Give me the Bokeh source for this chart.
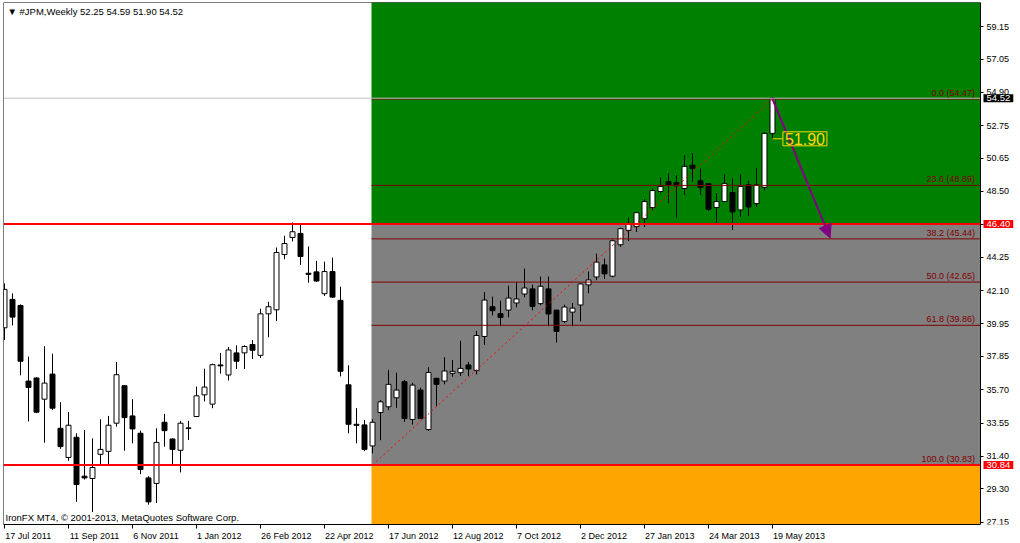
from bokeh.plotting import figure
from bokeh.models import (Range1d, FixedTicker, Label, LabelSet, Arrow, NormalHead,
                          PrintfTickFormatter, ColumnDataSource, LinearAxis)
from bokeh.embed import file_html
from bokeh.resources import INLINE
from bokeh.core.properties import value

# ---------------- data ----------------
title_text = "\u25bc #JPM,Weekly  52.25 54.59 51.90 54.52"
copyright_text = "IronFX MT4, \u00a9 2001-2013, MetaQuotes Software Corp."

opens = [39.70, 41.53, 41.14, 36.26, 36.46, 35.09, 36.71, 33.21, 31.33, 32.63,
         30.12, 29.97, 31.53, 31.72, 33.54, 35.96, 34.01, 32.89, 30.01, 29.65,
         33.60, 32.52, 31.79, 33.20, 33.97, 35.37, 34.77, 37.30, 36.65, 38.08,
         38.08, 38.62, 37.92, 40.60, 40.86, 44.43, 45.53, 45.79, 43.22, 43.31,
         41.90, 43.33, 41.47, 36.02, 33.47, 33.43, 32.07, 34.23, 34.60, 35.18,
         36.22, 33.78, 35.68, 33.13, 36.44, 36.26, 36.76, 36.80, 37.30, 36.93,
         39.14, 41.06, 40.61, 40.84, 41.30, 41.88, 42.21, 41.26, 42.21, 40.84,
         40.11, 40.71, 41.17, 42.47, 42.98, 43.76, 43.03, 45.06, 45.99, 46.23,
         46.74, 47.46, 48.50, 49.14, 49.08, 48.69, 50.20, 49.19, 49.01, 47.46,
         47.85, 48.43, 47.31, 48.93, 47.72, 48.77, 52.25]
highs = [42.57, 41.92, 41.21, 37.84, 36.50, 38.51, 38.03, 34.90, 34.27, 32.89,
         33.10, 32.56, 33.80, 34.01, 37.49, 35.98, 35.09, 33.06, 30.12, 33.21,
         34.14, 32.56, 33.69, 33.69, 35.91, 37.06, 37.38, 38.08, 38.46, 38.57,
         38.57, 38.90, 40.93, 41.38, 44.88, 45.64, 46.50, 46.35, 44.95, 44.02,
         43.97, 44.23, 42.35, 37.28, 34.51, 33.75, 33.80, 35.03, 36.98, 36.80,
         36.33, 36.15, 35.83, 37.15, 36.46, 37.80, 37.62, 38.86, 37.49, 39.50,
         42.01, 41.71, 41.45, 42.42, 42.64, 43.52, 42.49, 43.01, 43.01, 40.86,
         41.19, 41.30, 42.55, 43.33, 44.48, 44.17, 45.40, 46.16, 46.81, 47.15,
         48.00, 48.69, 49.40, 49.68, 49.55, 50.85, 50.98, 49.99, 49.03, 48.39,
         49.62, 49.34, 49.62, 49.19, 50.01, 52.32, 54.59]
lows = [38.90, 39.85, 36.63, 33.65, 34.19, 32.28, 34.40, 31.89, 31.12, 28.46,
        29.90, 27.81, 30.84, 30.84, 33.32, 31.76, 32.24, 30.25, 28.28, 28.39,
        32.02, 30.88, 30.36, 32.46, 33.95, 34.94, 34.51, 36.74, 36.30, 37.04,
        37.04, 37.69, 37.75, 39.09, 40.13, 44.13, 45.27, 43.76, 42.61, 42.66,
        41.75, 41.62, 36.56, 32.89, 32.24, 31.74, 31.59, 32.44, 34.38, 34.53,
        33.63, 33.45, 33.80, 33.04, 34.64, 36.05, 36.54, 36.59, 36.59, 36.69,
        38.60, 40.50, 39.79, 40.37, 41.02, 41.67, 40.82, 41.15, 39.79, 38.75,
        40.00, 39.79, 40.11, 41.93, 42.77, 42.85, 42.96, 44.93, 45.30, 45.88,
        46.20, 47.28, 48.37, 47.74, 46.77, 48.28, 49.12, 48.28, 47.24, 46.44,
        47.83, 46.01, 46.85, 46.92, 47.50, 48.56, 51.90]
closes = [42.18, 40.39, 37.54, 35.85, 34.25, 36.13, 34.51, 32.03, 33.41, 29.58,
          30.01, 30.68, 31.85, 33.41, 36.67, 33.90, 33.17, 30.55, 28.46, 32.30,
          33.06, 31.85, 33.54, 33.24, 35.31, 35.87, 37.32, 37.24, 38.27, 37.54,
          38.49, 38.25, 40.60, 41.06, 44.56, 45.14, 45.90, 44.30, 43.15, 42.72,
          43.33, 41.68, 36.89, 33.47, 33.40, 31.85, 33.60, 34.92, 36.05, 35.68,
          33.84, 36.00, 33.84, 36.82, 36.05, 36.91, 36.89, 37.08, 37.04, 39.20,
          41.49, 40.80, 40.37, 41.62, 41.56, 42.27, 41.08, 42.38, 40.59, 39.46,
          41.04, 40.97, 42.53, 42.79, 43.94, 43.18, 45.32, 46.10, 46.44, 47.13,
          47.85, 48.56, 48.82, 48.93, 48.86, 50.12, 49.99, 48.75, 47.35, 47.85,
          49.01, 47.18, 48.82, 47.50, 48.93, 52.25, 54.52]

date_tick_bars = [0, 8, 16, 24, 32, 40, 48, 56, 64, 72, 80, 88, 96]
date_labels = ["17 Jul 2011", "11 Sep 2011", "6 Nov 2011", "1 Jan 2012",
               "26 Feb 2012", "22 Apr 2012", "17 Jun 2012", "12 Aug 2012",
               "7 Oct 2012", "2 Dec 2012", "27 Jan 2013", "24 Mar 2013",
               "19 May 2013"]
price_ticks = [27.15, 29.30, 31.40, 33.55, 35.70, 37.85, 39.95, 42.10,
               44.25, 46.40, 48.50, 50.65, 52.75, 54.90, 57.05, 59.15]

fib_ratios = ["0.0", "23.6", "38.2", "50.0", "61.8", "100.0"]
fib_prices = [54.47, 48.89, 45.44, 42.65, 39.86, 30.83]
fib_low_bar = 46
fib_high_bar = 96
resistance_price = 46.40
support_price = 30.84
bid_price = 54.52
arrow_end_bar = 103.2
arrow_end_price = 45.5
low_label_price = 51.90

# ---------------- figure ----------------
FONT = "Liberation Sans"
AXIS_PX = 9
PX_PER_BAR = 8.0
FW, FH = 1017, 522
X0 = -0.125
XE = 122.0                       # right edge of the chart area (price axis)
X1 = X0 + FW / PX_PER_BAR        # frame also covers the price-axis strip
Y0, Y1 = 27.0, 60.70

p = figure(frame_width=FW, frame_height=FH,
           x_range=Range1d(X0, X1), y_range=Range1d(Y0, Y1),
           output_backend="svg", toolbar_location=None,
           y_axis_location="right",
           min_border_left=3, min_border_top=2,
           min_border_right=0, min_border_bottom=19,
           background_fill_color="white", border_fill_color="white")
p.grid.visible = False
p.outline_line_color = None

# price axis, fixed at the right edge of the chart area
yax = p.right[0]
yax.fixed_location = XE
yax.ticker = FixedTicker(ticks=price_ticks)
yax.formatter = PrintfTickFormatter(format="%.2f")
yax.major_tick_out = 3
yax.major_tick_in = 0
yax.minor_tick_line_color = None
yax.major_label_standoff = 3
yax.major_label_text_font = FONT
yax.major_label_text_font_size = f"{AXIS_PX}px"
yax.major_label_text_color = "black"
yax.axis_line_color = "black"

# date axis: MT4 puts each date label to the right of its tick.
ARIAL = {" ": 0.278, "J": 0.5, "u": 0.556, "l": 0.222, "S": 0.667, "e": 0.556,
         "p": 0.556, "N": 0.722, "o": 0.556, "v": 0.5, "a": 0.556, "n": 0.556,
         "F": 0.611, "b": 0.556, "A": 0.667, "r": 0.333, "M": 0.833, "y": 0.5,
         "g": 0.556, "O": 0.778, "c": 0.5, "t": 0.278, "D": 0.722}


def text_px(s, size):
    return sum(ARIAL.get(ch, 0.556) for ch in s) * size


label_pos = [b + (text_px(l, AXIS_PX) / 2 + 0.5) / PX_PER_BAR
             for b, l in zip(date_tick_bars, date_labels)]
xax = p.below[0]
xax.bounds = (X0, XE)
xax.ticker = FixedTicker(ticks=label_pos, minor_ticks=date_tick_bars)
xax.major_label_overrides = {pos: l for pos, l in zip(label_pos, date_labels)}
xax.major_tick_line_color = None
xax.major_tick_out = 4
xax.major_tick_in = 0
xax.minor_tick_line_color = "black"
xax.minor_tick_out = 4
xax.minor_tick_in = 0
xax.major_label_standoff = 2
xax.major_label_text_font = FONT
xax.major_label_text_font_size = f"{AXIS_PX}px"
xax.major_label_text_color = "black"
xax.axis_line_color = "black"

# frame borders (left and top) as bare axes
p.add_layout(LinearAxis(fixed_location=X0, ticker=FixedTicker(ticks=[]),
                        major_tick_line_color=None, minor_tick_line_color=None,
                        major_label_text_font_size="0px", axis_line_color="black"), "left")
p.add_layout(LinearAxis(fixed_location=Y1, bounds=(X0, XE), ticker=FixedTicker(ticks=[]),
                        major_tick_line_color=None, minor_tick_line_color=None,
                        major_label_text_font_size="0px", axis_line_color="black"), "above")

# background zones of the fibo object
zone_left = fib_low_bar - 0.125
p.quad(left=zone_left, right=XE, bottom=resistance_price, top=Y1 + 10,
       fill_color="#008000", line_color=None)
p.quad(left=zone_left, right=XE, bottom=support_price, top=resistance_price,
       fill_color="#808080", line_color=None)
p.quad(left=zone_left, right=XE, bottom=Y0 - 10, top=support_price,
       fill_color="#FFA500", line_color=None)

# candles
bars = list(range(len(opens)))
up = [i for i in bars if closes[i] >= opens[i]]
dn = [i for i in bars if closes[i] < opens[i]]
p.segment(x0=bars, x1=bars, y0=lows, y1=highs, line_color="black", line_width=1)
up_src = ColumnDataSource(dict(x=up, top=[closes[i] for i in up], bottom=[opens[i] for i in up]))
dn_src = ColumnDataSource(dict(x=dn, top=[opens[i] for i in dn], bottom=[closes[i] for i in dn]))
p.vbar(x="x", top="top", bottom="bottom", width=0.62, source=up_src,
       fill_color="white", line_color="black", line_width=1)
p.vbar(x="x", top="top", bottom="bottom", width=0.62, source=dn_src,
       fill_color="black", line_color="black", line_width=1)

# fibo lines + labels
n_fib = len(fib_prices)
p.segment(x0=[zone_left] * n_fib, x1=[XE] * n_fib, y0=fib_prices, y1=fib_prices,
          line_color="#800000", line_width=1)
fib_src = ColumnDataSource(dict(
    x=[XE] * n_fib, y=fib_prices,
    t=[f"{r}  ({v:.2f})" for r, v in zip(fib_ratios, fib_prices)]))
p.add_layout(LabelSet(x="x", y="y", text="t", source=fib_src, x_offset=-3, y_offset=1,
                      text_align="right", text_baseline="bottom",
                      text_font=value(FONT), text_font_size="9px",
                      text_color="#800000"))

# dotted fibo trend line
p.line(x=[fib_low_bar, fib_high_bar], y=[fib_prices[-1], fib_prices[0]],
       line_color="#FF0000", line_width=1, line_dash="2 3")

# horizontal lines across the chart area
p.segment(x0=[X0, X0], x1=[XE, XE], y0=[resistance_price, support_price],
          y1=[resistance_price, support_price], line_color="#FF0000", line_width=2)
p.segment(x0=[X0], x1=[XE], y0=[bid_price], y1=[bid_price],
          line_color="#C0C0C0", line_width=1)

# purple arrow
last = bars[-1]
p.add_layout(Arrow(end=NormalHead(size=13, fill_color="#800080", line_color="#800080"),
                   x_start=last, y_start=fib_prices[0],
                   x_end=arrow_end_bar, y_end=arrow_end_price,
                   line_color="#800080", line_width=2))

# yellow price label 51.90
p.segment(x0=[last], x1=[last + 1.3], y0=[low_label_price], y1=[low_label_price],
          line_color="#FFD700", line_width=1)
p.add_layout(Label(x=last + 1.3, y=low_label_price, text=f"{low_label_price:.2f}",
                   text_align="left", text_baseline="middle",
                   text_font=FONT, text_font_size="16px", text_color="#FFD700",
                   border_line_color="#FFD700", border_line_width=1,
                   padding=(2, 1)))

# price tags on the axis
for price, bg in [(bid_price, "black"), (resistance_price, "#FF0000"), (support_price, "#FF0000")]:
    p.add_layout(Label(x=XE, y=price, x_offset=3, text=f"{price:.2f}",
                       text_align="left", text_baseline="middle",
                       text_font=FONT, text_font_size="9.5px", text_color="white",
                       background_fill_color=bg, padding=(3, 1)))

# title + copyright
p.add_layout(Label(x=4, y=FH - 3, x_units="screen", y_units="screen", text=title_text,
                   text_align="left", text_baseline="top",
                   text_font=FONT, text_font_size="9.5px", text_color="black"))
p.add_layout(Label(x=2, y=7, x_units="screen", y_units="screen", text=copyright_text,
                   text_align="left", text_baseline="middle",
                   text_font=FONT, text_font_size="9.5px", text_color="black"))

open("out.html", "w").write(file_html(p, INLINE))
